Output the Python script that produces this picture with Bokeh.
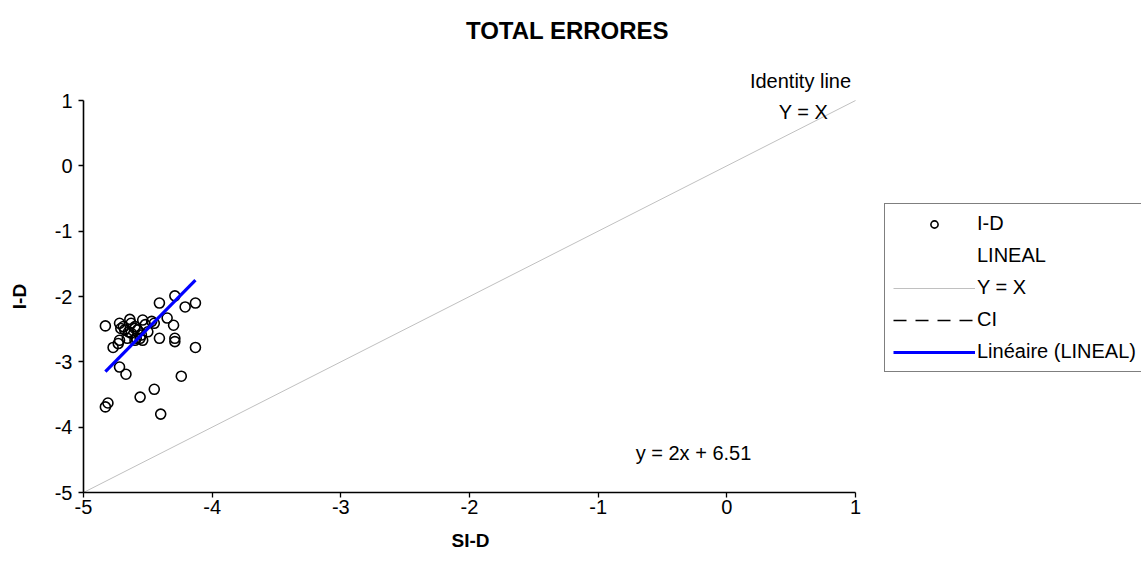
from bokeh.plotting import figure
from bokeh.models import (Range1d, ColumnDataSource, Legend, LegendItem, Label,
                          FixedTicker)
from bokeh.embed import file_html
from bokeh.resources import INLINE
import numpy as np

# ---- data ----
si_d = [-4.83, -4.72, -4.64, -4.71, -4.69, -4.68, -4.65, -4.63, -4.63, -4.60,
        -4.60, -4.58, -4.55, -4.54, -4.52, -4.47, -4.45, -4.50, -4.56, -4.54,
        -4.59, -4.60, -4.66, -4.72, -4.73, -4.77, -4.41, -4.29, -4.21, -4.13,
        -4.35, -4.30, -4.41, -4.29, -4.29, -4.13, -4.72, -4.67, -4.24, -4.45,
        -4.56, -4.81, -4.83, -4.40]
i_d = [-2.45, -2.41, -2.35, -2.49, -2.46, -2.51, -2.54, -2.41, -2.56, -2.46,
       -2.49, -2.51, -2.59, -2.36, -2.43, -2.38, -2.41, -2.54, -2.64, -2.67,
       -2.64, -2.67, -2.64, -2.67, -2.72, -2.78, -2.10, -1.99, -2.16, -2.10,
       -2.33, -2.44, -2.64, -2.64, -2.69, -2.78, -3.08, -3.19, -3.22, -3.42,
       -3.54, -3.63, -3.69, -3.80]
fit_slope = 2.0
fit_intercept = 6.51
identity_x = [-5, 1]
identity_y = [-5, 1]
ci_x = [np.nan]   # CI appears only in the legend
ci_y = [np.nan]
x_ticks = [-5, -4, -3, -2, -1, 0, 1]
y_ticks = [-5, -4, -3, -2, -1, 0, 1]
axis_bounds = (-5, 1)

FONT = "Liberation Sans"

# The frame covers the whole canvas; axes are pinned at x=-5 / y=-5 and
# bounded to [-5, 1], so every text can sit where the reference has it.
W, H = 1141, 574
LEFT_PX, BOTTOM_PX = 83, 492
PX_X = 128.67
PX_Y = 65.33
x_start = -5 - LEFT_PX / PX_X
x_end = -5 + (W - LEFT_PX) / PX_X
y_start = -5 - (H - BOTTOM_PX) / PX_Y
y_end = -5 + BOTTOM_PX / PX_Y

p = figure(width=W, height=H, output_backend="svg", toolbar_location=None,
           x_range=Range1d(x_start, x_end), y_range=Range1d(y_start, y_end),
           min_border_left=0, min_border_right=0, min_border_top=0,
           min_border_bottom=0)
p.outline_line_color = None
p.xgrid.visible = False
p.ygrid.visible = False
p.background_fill_color = "white"
p.border_fill_color = "white"

for ax in (p.xaxis[0], p.yaxis[0]):
    ax.bounds = axis_bounds
    ax.fixed_location = -5
    ax.axis_line_width = 1.6
    ax.axis_line_color = "black"
    ax.major_tick_line_color = "black"
    ax.major_tick_line_width = 1.3
    ax.major_tick_out = 5
    ax.major_tick_in = 0
    ax.minor_tick_line_color = None
    ax.major_label_text_font = FONT
    ax.major_label_text_font_size = "20px"
    ax.major_label_text_color = "black"
p.xaxis.ticker = FixedTicker(ticks=x_ticks)
p.yaxis.ticker = FixedTicker(ticks=y_ticks)
p.xaxis.major_label_overrides = {t: str(t) for t in x_ticks}
p.yaxis.major_label_overrides = {t: str(t) for t in y_ticks}
p.xaxis.major_label_standoff = 2
p.yaxis.major_label_standoff = 6

# identity line
r_id = p.line(identity_x, identity_y, line_color="#c0c0c0", line_width=1)

# scatter
src = ColumnDataSource(dict(x=si_d, y=i_d))
r_pts = p.scatter("x", "y", source=src, marker="circle", size=10,
                  fill_color=None, line_color="black", line_width=1.6)

# trend line
fx = np.array([min(si_d), max(si_d)])
fy = fit_slope * fx + fit_intercept
r_fit = p.line(fx, fy, line_color="#0000ff", line_width=3.2)

# legend-only renderers
r_lineal = p.line([np.nan], [np.nan], line_alpha=0)
r_ci = p.line(ci_x, ci_y, line_color="black", line_dash="13 9", line_width=1.6)

legend = Legend(items=[
    LegendItem(label="I-D", renderers=[r_pts]),
    LegendItem(label="LINEAL", renderers=[r_lineal]),
    LegendItem(label="Y = X", renderers=[r_id]),
    LegendItem(label="CI", renderers=[r_ci]),
    LegendItem(label="Linéaire (LINEAL)", renderers=[r_fit]),
], location=(884, H - 372))
legend.glyph_width = 82
legend.glyph_height = 18
legend.label_height = 18
legend.spacing = 9
legend.padding = 8
legend.margin = 0
legend.label_standoff = 2
legend.label_text_font = FONT
legend.label_text_font_size = "20px"
legend.label_text_color = "black"
legend.border_line_color = "black"
legend.border_line_width = 1
legend.background_fill_color = "white"
legend.background_fill_alpha = 1
p.add_layout(legend, "center")

def px_to_x(px):
    return -5 + (px - LEFT_PX) / PX_X

def px_to_y(py):
    return -5 + (BOTTOM_PX - py) / PX_Y

def add_text(px, py, text, size, bold=False, angle=0.0):
    p.add_layout(Label(x=px_to_x(px), y=px_to_y(py), text=text,
                       text_font=FONT, text_font_size=size,
                       text_font_style="bold" if bold else "normal",
                       text_align="center", text_baseline="middle",
                       text_color="black", angle=angle))

add_text(567, 30, "TOTAL ERRORES", "24px", bold=True)
add_text(800, 80, "Identity line", "20px")
add_text(803, 111, "Y = X", "20px")
add_text(693, 452, "y = 2x + 6.51", "20px")
add_text(470, 540, "SI-D", "19px", bold=True)
add_text(19, 296, "I-D", "19px", bold=True, angle=np.pi / 2)

open("out.html", "w").write(file_html(p, INLINE))
